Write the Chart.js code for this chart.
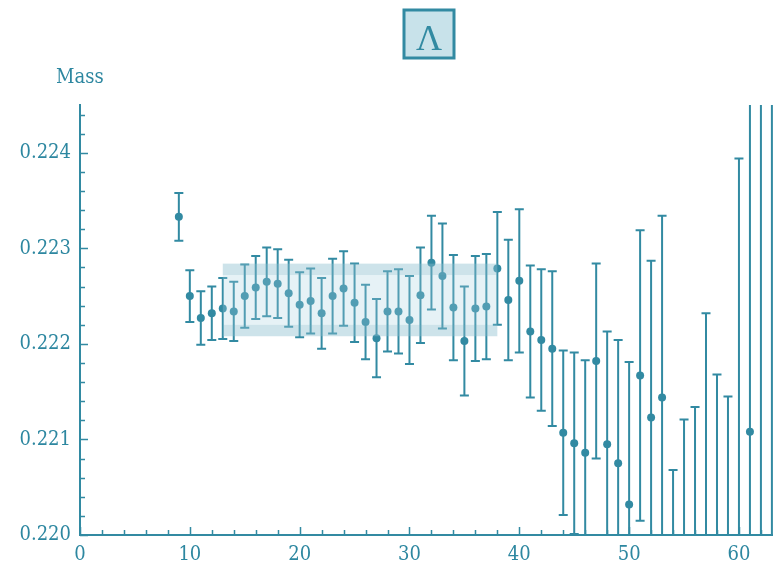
<!DOCTYPE html>
<html><head><meta charset="utf-8">
<script src="https://cdn.jsdelivr.net/npm/chart.js@4/dist/chart.umd.min.js"></script>
<style>html,body{margin:0;padding:0;background:#fff}#wrap{width:773px;height:568px;position:relative}</style>
</head><body><div id="wrap"><canvas id="c" width="773" height="568"></canvas></div>
<script>
const xValues = [9,10,11,12,13,14,15,16,17,18,19,20,21,22,23,24,25,26,27,28,29,30,31,32,33,34,35,36,37,38,39,40,41,42,43,44,45,46,47,48,49,50,51,52,53,54,55,56,57,58,59,60,61,62,63];
const massValues = [0.22333,0.22250,0.22227,0.22232,0.22237,0.22234,0.22250,0.22259,0.22265,0.22263,0.22253,0.22241,0.22245,0.22232,0.22250,0.22258,0.22243,0.22223,0.22206,0.22234,0.22234,0.22225,0.22251,0.22285,0.22271,0.22238,0.22203,0.22237,0.22239,0.22279,0.22246,0.22266,0.22213,0.22204,0.22195,0.22107,0.22096,0.22086,0.22182,0.22095,0.22075,0.22032,0.22167,0.22123,0.22144,0.21950,0.21960,0.21970,0.21970,0.21960,0.21950,0.21970,0.22108,0.21900,0.21880];
const massErrors = [0.00025,0.00027,0.00028,0.00028,0.00032,0.00031,0.00033,0.00033,0.00036,0.00036,0.00035,0.00034,0.00034,0.00037,0.00039,0.00039,0.00041,0.00039,0.00041,0.00042,0.00044,0.00046,0.00050,0.00049,0.00055,0.00055,0.00057,0.00055,0.00055,0.00059,0.00063,0.00075,0.00069,0.00074,0.00081,0.00086,0.00095,0.00097,0.00102,0.00118,0.00129,0.00149,0.00152,0.00164,0.00190,0.00118,0.00161,0.00164,0.00262,0.00208,0.00195,0.00424,0.00450,0.00700,0.00750];
const xTickValues = [0,10,20,30,40,50,60];
const xTickLabels = ['0','10','20','30','40','50','60'];
const yTickValues = [0.220,0.221,0.222,0.223,0.224];
const yTickLabels = ['0.220','0.221','0.222','0.223','0.224'];
const bandRange = [13,38];
const bandInner = [0.22220,0.22272];
const bandOuter = [0.22208,0.22284];
const titleText = 'Λ';
const yAxisTitle = 'Mass';

const TEAL = 'rgb(50,138,162)';
const LABEL = 'rgb(45,135,160)';
const SERIF = '"DejaVu Serif Condensed", "DejaVu Serif", serif';
const TIMES = '"Liberation Serif", serif';

const custom = {
  id: 'custom',
  beforeDatasetsDraw(chart) {
    const {ctx, chartArea: a, scales: {x, y}} = chart;
    ctx.save();
    ctx.beginPath(); ctx.rect(a.left, a.top, a.right - a.left, a.bottom - a.top); ctx.clip();
    ctx.strokeStyle = TEAL; ctx.lineWidth = 2;
    xValues.forEach((xv, i) => {
      const px = x.getPixelForValue(xv);
      const yt = y.getPixelForValue(massValues[i] + massErrors[i]);
      const yb = y.getPixelForValue(massValues[i] - massErrors[i]);
      ctx.beginPath();
      ctx.moveTo(px, yt); ctx.lineTo(px, yb);
      ctx.moveTo(px - 4.5, yt); ctx.lineTo(px + 4.5, yt);
      ctx.moveTo(px - 4.5, yb); ctx.lineTo(px + 4.5, yb);
      ctx.stroke();
    });
    ctx.restore();
  },
  afterDatasetsDraw(chart) {
    const {ctx, chartArea: a, scales: {x, y}} = chart;
    ctx.save();
    const bx0 = x.getPixelForValue(bandRange[0]), bx1 = x.getPixelForValue(bandRange[1]);
    const o0 = y.getPixelForValue(bandOuter[1]), o1 = y.getPixelForValue(bandOuter[0]);
    const i0 = y.getPixelForValue(bandInner[1]), i1 = y.getPixelForValue(bandInner[0]);
    ctx.fillStyle = 'rgba(135,188,206,0.42)';
    ctx.fillRect(bx0, o0, bx1 - bx0, i0 - o0);
    ctx.fillRect(bx0, i1, bx1 - bx0, o1 - i1);
    ctx.fillStyle = 'rgba(165,208,222,0.28)';
    ctx.fillRect(bx0, i0, bx1 - bx0, i1 - i0);
    ctx.strokeStyle = TEAL; ctx.lineWidth = 1.5;
    ctx.beginPath();
    for (let v = 0; v <= 63; v += 2) {
      const px = Math.round(x.getPixelForValue(v)) + 0.5;
      const len = v % 10 === 0 ? 8 : 5;
      ctx.moveTo(px, a.bottom); ctx.lineTo(px, a.bottom - len);
    }
    for (let k = 0; k <= 22; k++) {
      const v = 0.220 + k * 0.0002;
      const py = Math.round(y.getPixelForValue(v)) + 0.5;
      const len = k % 5 === 0 ? 8 : 5;
      ctx.moveTo(a.left, py); ctx.lineTo(a.left + len, py);
    }
    ctx.stroke();
    ctx.restore();
  },
  afterDraw(chart) {
    const {ctx} = chart;
    ctx.save();
    ctx.fillStyle = 'rgb(200,226,234)';
    ctx.fillRect(404, 10, 50, 48);
    ctx.strokeStyle = TEAL; ctx.lineWidth = 3;
    ctx.strokeRect(404, 10, 50, 48);
    ctx.fillStyle = TEAL;
    ctx.font = '36px ' + TIMES;
    ctx.textAlign = 'center'; ctx.textBaseline = 'alphabetic';
    ctx.fillText(titleText, 429, 50);
    ctx.font = '20px ' + SERIF;
    ctx.textAlign = 'left';
    ctx.fillStyle = LABEL;
    ctx.fillText(yAxisTitle, 56, 83);
    ctx.restore();
  }
};

new Chart(document.getElementById('c'), {
  type: 'scatter',
  data: {
    datasets: [{
      data: xValues.map((xv, i) => ({x: xv, y: massValues[i]})),
      backgroundColor: TEAL,
      borderColor: TEAL,
      pointRadius: 4,
      pointHoverRadius: 4,
      borderWidth: 0,
      clip: 0
    }]
  },
  options: {
    responsive: false,
    animation: false,
    events: [],
    layout: {autoPadding: false, padding: {top: 105, right: 0, left: 0, bottom: 0}},
    plugins: {legend: {display: false}, tooltip: {enabled: false}, title: {display: false}},
    scales: {
      x: {
        type: 'linear', min: 0, max: 63.1,
        afterBuildTicks: s => { s.ticks = xTickValues.map(v => ({value: v})); },
        afterFit: s => { s.height = 33; },
        ticks: {
          callback: (v, i) => xTickLabels[i],
          color: LABEL, font: {family: SERIF, size: 20}, padding: 8, maxRotation: 0, autoSkip: false
        },
        grid: {display: false, drawTicks: false},
        border: {display: true, color: TEAL, width: 2}
      },
      y: {
        type: 'linear', min: 0.220, max: 0.2245,
        afterBuildTicks: s => { s.ticks = yTickValues.map(v => ({value: v})); },
        afterFit: s => { s.width = 80; },
        ticks: {
          callback: (v, i) => yTickLabels[i],
          color: LABEL, font: {family: SERIF, size: 20}, padding: 9, autoSkip: false
        },
        grid: {display: false, drawTicks: false},
        border: {display: true, color: TEAL, width: 2}
      }
    }
  },
  plugins: [custom]
});
</script>
</body></html>
